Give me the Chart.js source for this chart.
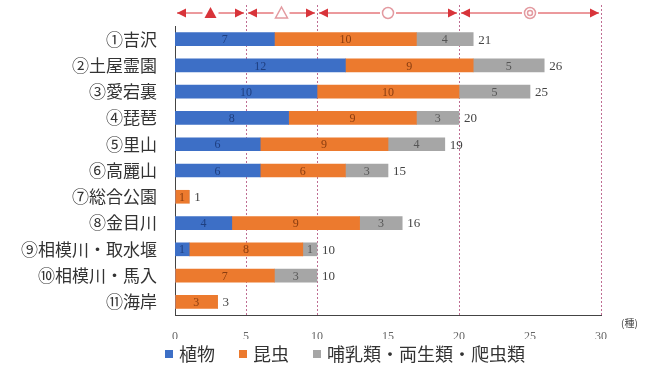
<!DOCTYPE html>
<html lang="ja">
<head>
<meta charset="utf-8">
<script src="https://cdn.jsdelivr.net/npm/chart.js@4.4.1/dist/chart.umd.min.js"></script>
<style>
  html, body { margin: 0; padding: 0; background: #fff; }
  #wrap { width: 655px; height: 369px; position: relative; }
</style>
</head>
<body>
<div id="wrap"><canvas id="speciesChart"></canvas></div>
<script>
const sites = ['①吉沢', '②土屋霊園', '③愛宕裏', '④琵琶', '⑤里山', '⑥高麗山', '⑦総合公園', '⑧金目川', '⑨相模川・取水堰', '⑩相模川・馬入', '⑪海岸'];
const plants = [7, 12, 10, 8, 6, 6, 0, 4, 1, 0, 0];
const insects = [10, 9, 10, 9, 9, 6, 1, 9, 8, 7, 3];
const vertebrates = [4, 5, 5, 3, 4, 3, 0, 3, 1, 3, 0];
const seriesNames = ['植物', '昆虫', '哺乳類・両生類・爬虫類'];
const seriesColors = ['#3d6fc6', '#ec7a2e', '#a6a6a6'];
const xTicks = [0, 5, 10, 15, 20, 25, 30];

// rating bands along the top: [from, to, mark]
const bandFrom = [0, 5, 10, 20];
const bandTo = [5, 10, 20, 30];
const bandMark = ['▲', '△', '○', '◎'];

const serif = '"Liberation Serif", "DejaVu Serif", serif';
const jp = '"Noto Sans CJK JP", sans-serif';
const red = '#d8343a';

// segment numbers, totals, dotted guides, arrows, unit and legend
const extras = {
  id: 'extras',
  beforeDatasetsDraw(chart) {
    const { ctx, chartArea, scales: { x } } = chart;
    ctx.save();
    ctx.strokeStyle = 'rgba(170, 60, 110, 0.75)';
    ctx.lineWidth = 1;
    ctx.setLineDash([2, 2]);
    [5, 10, 20, 30].forEach(v => {
      const px = Math.round(x.getPixelForValue(v)) + 0.5;
      ctx.beginPath();
      ctx.moveTo(px, 5);
      ctx.lineTo(px, chartArea.bottom);
      ctx.stroke();
    });
    ctx.restore();
  },
  afterDatasetsDraw(chart) {
    const { ctx, chartArea, scales: { x } } = chart;
    const labelColors = ['#1f3f80', '#8a3d10', '#555'];
    ctx.save();
    ctx.font = '12px ' + serif;
    ctx.textAlign = 'center';
    ctx.textBaseline = 'middle';
    chart.data.datasets.forEach((ds, di) => {
      const meta = chart.getDatasetMeta(di);
      meta.data.forEach((bar, i) => {
        const v = ds.data[i];
        if (!v) return;
        ctx.fillStyle = labelColors[di];
        ctx.fillText(String(v), (bar.x + bar.base) / 2, bar.y + 1);
      });
    });
    // totals
    ctx.font = '13px ' + serif;
    ctx.textAlign = 'left';
    ctx.fillStyle = '#444';
    sites.forEach((s, i) => {
      const total = plants[i] + insects[i] + vertebrates[i];
      const y = chart.getDatasetMeta(0).data[i].y;
      ctx.fillText(String(total), x.getPixelForValue(total) + 5, y + 1);
    });

    // arrows row
    const ay = 13;
    bandFrom.forEach((a, k) => {
      const x0 = x.getPixelForValue(a) + 2;
      const x1 = x.getPixelForValue(bandTo[k]) - 2;
      const mid = (x0 + x1) / 2;
      ctx.strokeStyle = red;
      ctx.fillStyle = red;
      ctx.lineWidth = 1;
      ctx.setLineDash([]);
      ctx.beginPath();
      ctx.moveTo(x0, ay);
      ctx.lineTo(x1, ay);
      ctx.stroke();
      ctx.beginPath();
      ctx.moveTo(x0, ay);
      ctx.lineTo(x0 + 9, ay - 4.5);
      ctx.lineTo(x0 + 9, ay + 4.5);
      ctx.closePath();
      ctx.fill();
      ctx.beginPath();
      ctx.moveTo(x1, ay);
      ctx.lineTo(x1 - 9, ay - 4.5);
      ctx.lineTo(x1 - 9, ay + 4.5);
      ctx.closePath();
      ctx.fill();
      const mark = bandMark[k];
      ctx.fillStyle = '#fff';
      ctx.fillRect(mid - 8, ay - 6, 16, 12);
      ctx.lineWidth = 1.5;
      ctx.strokeStyle = '#e39aa0';
      if (mark === '▲' || mark === '△') {
        ctx.beginPath();
        ctx.moveTo(mid, ay - 6);
        ctx.lineTo(mid + 6, ay + 5);
        ctx.lineTo(mid - 6, ay + 5);
        ctx.closePath();
        if (mark === '▲') { ctx.fillStyle = red; ctx.fill(); }
        else ctx.stroke();
      } else {
        ctx.beginPath();
        ctx.arc(mid, ay, 5.5, 0, Math.PI * 2);
        ctx.stroke();
        if (mark === '◎') {
          ctx.beginPath();
          ctx.arc(mid, ay, 2.5, 0, Math.PI * 2);
          ctx.stroke();
        }
      }
    });

    // unit
    ctx.fillStyle = '#444';
    ctx.font = '10px ' + jp;
    ctx.textAlign = 'left';
    ctx.fillText('(種)', chartArea.right + 20, chartArea.bottom + 8);

    // legend row
    ctx.font = '18px ' + jp;
    ctx.textBaseline = 'middle';
    let lx = 165;
    const ly = 354;
    seriesNames.forEach((name, i) => {
      ctx.fillStyle = seriesColors[i];
      ctx.fillRect(lx, ly - 4, 8, 8);
      lx += 14;
      ctx.fillStyle = '#333';
      ctx.fillText(name, lx, ly);
      lx += ctx.measureText(name).width + 24;
    });
    ctx.restore();
  }
};

new Chart(document.getElementById('speciesChart'), {
  type: 'bar',
  data: {
    labels: sites,
    datasets: [
      { label: seriesNames[0], data: plants, backgroundColor: seriesColors[0] },
      { label: seriesNames[1], data: insects, backgroundColor: seriesColors[1] },
      { label: seriesNames[2], data: vertebrates, backgroundColor: seriesColors[2] }
    ]
  },
  options: {
    indexAxis: 'y',
    responsive: true,
    maintainAspectRatio: false,
    animation: false,
    barThickness: 13,
    layout: { padding: { top: 26, right: 54, bottom: 30, left: 0 } },
    plugins: {
      tooltip: { enabled: false },
      legend: { display: false }
    },
    scales: {
      x: {
        stacked: true,
        min: 0,
        max: 30,
        afterBuildTicks: axis => { axis.ticks = xTicks.map(v => ({ value: v })); },
        afterFit: axis => { axis.height = 24; },
        grid: { display: false },
        border: { color: '#444', width: 1 },
        ticks: { color: '#666', padding: 7, font: { size: 12, family: serif } }
      },
      y: {
        stacked: true,
        afterFit: axis => { axis.width = 175; },
        grid: { display: false },
        border: { color: '#444', width: 1 },
        ticks: { color: '#333', padding: 10, font: { size: 17, family: jp } }
      }
    }
  },
  plugins: [extras]
});
</script>
</body>
</html>
